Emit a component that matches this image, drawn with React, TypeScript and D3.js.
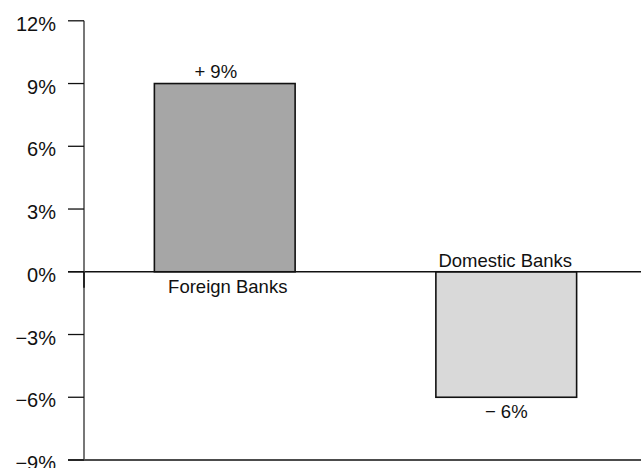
import React from "react";
import * as d3 from "d3";

const categories = ["Foreign Banks", "Domestic Banks"];
const values = [9, -6];
const valueLabels = ["+ 9%", "\u2212 6%"];
const fills = ["#a6a6a6", "#d9d9d9"];
const tickValues = [12, 9, 6, 3, 0, -3, -6, -9];

const W = 641;
const H = 468;
const axisX = 84;
const top = 20.8;
const bottom = 460;
const fontFamily = "Liberation Sans, Arial, Helvetica, sans-serif";
const fs = 18.5;
const tickFs = 20;

export default function App() {
  const y = d3.scaleLinear().domain([-9, 12]).range([bottom, top]);
  const x = d3
    .scaleBand<string>()
    .domain(categories)
    .range([axisX, axisX + 563])
    .paddingInner(0.5)
    .paddingOuter(0.25);
  const fmt = (v: number) => (v < 0 ? "\u2212" + Math.abs(v) : String(v)) + "%";

  return (
    <svg
      width={W}
      height={H}
      style={{ position: "absolute", left: 0, top: 0, background: "#fff" }}
      fontFamily={fontFamily}
    >
      {categories.map((c, i) => {
        const v = values[i];
        const y0 = y(Math.max(0, v));
        const y1 = y(Math.min(0, v));
        return (
          <rect
            key={c}
            x={x(c)}
            y={y0}
            width={x.bandwidth()}
            height={y1 - y0}
            fill={fills[i]}
            stroke="#111"
            strokeWidth={1.6}
          />
        );
      })}
      <line x1={68} x2={W} y1={y(0)} y2={y(0)} stroke="#111" strokeWidth={1.3} />
      <line x1={68} x2={W} y1={y(-9)} y2={y(-9)} stroke="#111" strokeWidth={1.3} />
      <line x1={axisX} x2={axisX} y1={y(12)} y2={y(-9)} stroke="#555" strokeWidth={1.6} />
      <line x1={axisX} x2={axisX} y1={y(0)} y2={y(0) + 16} stroke="#111" strokeWidth={1.6} />
      {tickValues.map((t) => (
        <g key={t}>
          <line x1={68} x2={axisX} y1={y(t)} y2={y(t)} stroke="#111" strokeWidth={1.3} />
          <text x={56} y={y(t) + 10} textAnchor="end" fontSize={tickFs} fill="#111">
            {fmt(t)}
          </text>
        </g>
      ))}
      {categories.map((c, i) => {
        const v = values[i];
        const cx = (x(c) as number) + x.bandwidth() / 2;
        return (
          <g key={"l" + c}>
            <text
              x={cx + (v > 0 ? -9 : 0)}
              y={v > 0 ? y(v) - 6 : y(v) + 21}
              textAnchor="middle"
              fontSize={fs}
              fill="#111"
            >
              {valueLabels[i]}
            </text>
            <text
              x={cx + (v > 0 ? 3 : -1)}
              y={v > 0 ? y(0) + 21 : y(0) - 5}
              textAnchor="middle"
              fontSize={fs}
              fill="#111"
            >
              {c}
            </text>
          </g>
        );
      })}
    </svg>
  );
}
